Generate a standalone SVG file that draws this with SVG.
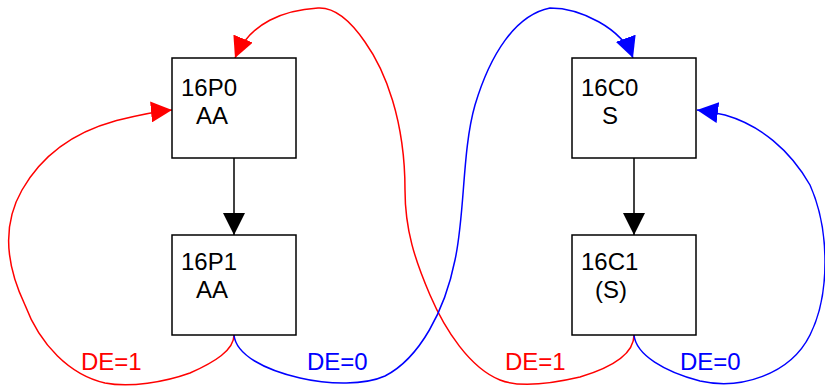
<svg xmlns="http://www.w3.org/2000/svg" width="825" height="388" viewBox="0 0 825 388">
<style>
.box{fill:#fff;stroke:#000;stroke-width:1.5}
.t{font-family:"Liberation Sans",Arial,sans-serif;font-size:24px;fill:#000}
.lr{font-family:"Liberation Sans",Arial,sans-serif;font-size:24px;fill:#f00}
.lb{font-family:"Liberation Sans",Arial,sans-serif;font-size:24px;fill:#00f}
.red{fill:none;stroke:#f00;stroke-width:1.5}
.blue{fill:none;stroke:#00f;stroke-width:1.5}
.blk{fill:none;stroke:#000;stroke-width:1.5}
</style>
<defs>
<marker id="ar" markerUnits="userSpaceOnUse" markerWidth="21" markerHeight="21" refX="21" refY="10.5" orient="auto"><path d="M0,0 L21,10.5 L0,21 z" fill="#f00"/></marker>
<marker id="ab" markerUnits="userSpaceOnUse" markerWidth="21" markerHeight="21" refX="21" refY="10.5" orient="auto"><path d="M0,0 L21,10.5 L0,21 z" fill="#00f"/></marker>
<marker id="ak" markerUnits="userSpaceOnUse" markerWidth="22" markerHeight="22" refX="22" refY="11" orient="auto"><path d="M0,0 L22,11 L0,22 z" fill="#000"/></marker>
</defs>
<g id="connectors">
<line class="blk" x1="234" y1="158" x2="234" y2="235" marker-end="url(#ak)"/>
<line class="blk" x1="634" y1="158" x2="634" y2="235" marker-end="url(#ak)"/>
<path class="red" d="M234,335 C234,350 215,362 190,373 C165,382 130,388 105,383 C70,375 40,345 25,305 C6,265 2,225 22,190 C42,155 75,132 115,121 C135,116 150,112 172,110" marker-end="url(#ar)"/>
<path class="red" d="M634,335 C634,355 610,368 580,377 C550,384 520,388 500,380 C470,368 445,330 430,295 C415,260 405,230 405,190 C405,120 385,70 365,42 C350,20 335,7 318,8 C285,10 250,22 235,58" marker-end="url(#ar)"/>
<path class="blue" d="M234,335 C236,355 265,370 300,378 C330,385 365,385 385,376 C420,358 445,310 455,260 C465,215 462,150 475,105 C490,55 515,15 550,8 C580,8 622,28 633,58" marker-end="url(#ab)"/>
<path class="blue" d="M634,335 C636,355 665,372 700,381 C740,390 790,375 810,335 C830,295 830,230 810,185 C790,150 760,125 725,115 C712,112 705,111 697,110" marker-end="url(#ab)"/>
<text class="lr" x="81" y="370">DE=1</text>
<text class="lb" x="307" y="370">DE=0</text>
<text class="lr" x="505" y="370">DE=1</text>
<text class="lb" x="680" y="370">DE=0</text>
</g>
<g id="n16P0"><rect class="box" x="172" y="58" width="124" height="100"/><text class="t" x="181" y="96">16P0</text><text class="t" x="196" y="124">AA</text></g>
<g id="n16P1"><rect class="box" x="172" y="235" width="124" height="100"/><text class="t" x="181" y="270">16P1</text><text class="t" x="196" y="298">AA</text></g>
<g id="n16C0"><rect class="box" x="572" y="58" width="124" height="100"/><text class="t" x="581" y="96">16C0</text><text class="t" x="602" y="124">S</text></g>
<g id="n16C1"><rect class="box" x="572" y="235" width="124" height="100"/><text class="t" x="581" y="270">16C1</text><text class="t" x="595" y="298">(S)</text></g>
</svg>
